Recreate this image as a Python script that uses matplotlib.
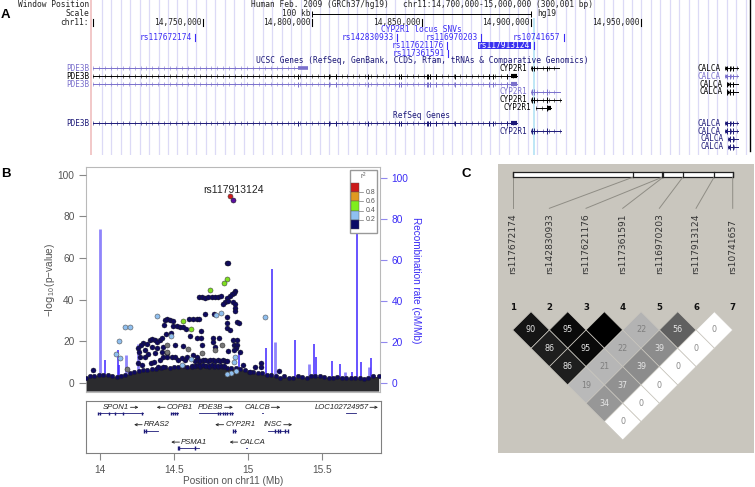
"""
Three panel locus figure: UCSC browser view (A), regional association plot (B)
and LD triangle (C). Everything is placed on pixel positions of a 755x487 page.
"""
import numpy as np
import matplotlib
matplotlib.use("Agg")
import matplotlib.pyplot as plt
from matplotlib.colors import LinearSegmentedColormap
from matplotlib.patches import Polygon, Rectangle

W, H = 755, 487
SANS = "Liberation Sans"
MONO = "DejaVu Sans Mono"
plt.rcParams["font.family"] = SANS
plt.rcParams["mathtext.default"] = "regular"

# ---- panel A: browser tracks (bp)
axis_ticks = [14750000, 14800000, 14850000, 14900000, 14950000]
scale_bar = [14800000, 14900000]
snv_names = ["rs117672174", "rs142830933", "rs117621176", "rs117361591",
             "rs116970203", "rs117913124", "rs10741657"]
snv_pos = [14746500, 14838900, 14861400, 14862150, 14877100, 14901100, 14914800]
snv_row = [37.7, 37.7, 45.7, 53.3, 37.7, 45.7, 37.7]
pde3b_exons = [14793400, 14807800, 14810900, 14825600, 14839600, 14840500, 14852300,
               14853000, 14853900, 14856500, 14865200, 14880700, 14882700, 14889100]
cyp_exons = [14900500, 14901400, 14907350]
calca_exons = [14989300, 14990800, 14992300]
# name, row, start, end, track colour key
gene_names = ["PDE3B", "PDE3B", "PDE3B", "PDE3B",
              "CYP2R1", "CYP2R1", "CYP2R1", "CYP2R1", "CYP2R1",
              "CALCA", "CALCA", "CALCA", "CALCA", "CALCA", "CALCA", "CALCA", "CALCA"]
gene_rows = [68.3, 76.3, 84.3, 123.3, 68.3, 92, 100, 107.7, 131,
             68.3, 76.3, 84.3, 92, 123.3, 131, 138.7, 146.7]
gene_start = [14700000, 14700000, 14700000, 14700000,
              14899800, 14899800, 14899800, 14902050, 14899800,
              14988500, 14988500, 14989300, 14989300, 14988500, 14988500, 14989750, 14989750]
gene_end = [14793400, 14893400, 14893400, 14893400,
            14912800, 14913000, 14913600, 14908900, 14913600,
            14994300, 14994300, 14994300, 14994300, 14994300, 14994300, 14994300, 14994300]
gene_kind = ["lav", "blk", "lav", "nav", "blk", "lav", "blk", "blk", "nav",
             "blk", "lav", "blk", "blk", "nav", "nav", "nav", "nav"]

# ---- panel B: association points (Mb, -log10 p)
top_x, top_y = [14.878], [89.7]
lead_x, lead_y = [14.900], [87.8]
green_x = [14.862, 14.839, 14.747, 14.563, 14.613]
green_y = [50.0, 47.8, 44.5, 29.6, 25.6]
blue_x = [14.387, 14.127, 14.170, 14.204, 14.104, 14.133, 14.785, 14.821, 14.477, 14.618,
          14.554, 14.912, 14.907, 14.921, 14.889, 14.862, 15.120]
blue_y = [32.2, 19.9, 26.6, 26.6, 13.6, 11.9, 32.4, 33.5, 22.4, 11.4,
          8.5, 12.2, 10.1, 5.6, 4.5, 4.2, 31.6]
grey_x = [14.455, 14.455, 14.595, 14.688, 14.828, 14.781, 14.183]
grey_y = [18.1, 14.6, 16.3, 14.1, 18.1, 15.7, 6.6]
navy_x = [14.857, 14.866,
          14.667, 14.688, 14.710, 14.733, 14.756, 14.778, 14.801, 14.817,
          14.916, 14.907, 14.891, 14.880, 14.857, 14.846, 14.835, 14.869, 14.903, 14.916, 14.914, 14.916,
          14.710, 14.774, 14.862, 14.857, 14.925, 14.939, 14.862, 14.880,
          14.439, 14.455, 14.473, 14.491, 14.434, 14.604, 14.631, 14.654, 14.670,
          14.495, 14.518, 14.541, 14.559, 14.579, 14.683, 14.446, 14.477, 14.611, 14.654, 14.681,
          14.762, 14.762, 14.803, 14.903, 14.930, 14.692, 14.509, 14.563, 14.781,
          14.907, 14.930, 14.921, 14.866, 14.948, 14.907,
          14.337, 14.348, 14.371, 14.387, 14.405, 14.419, 14.292, 14.314, 14.274, 14.258,
          14.265, 14.269, 14.258, 14.281, 14.303, 14.326, 14.342, 14.364, 14.405, 14.428,
          14.450, 14.416, 14.382, 14.348, 14.371, 14.394, 14.303, 14.428, 14.455, 14.484,
          14.507, 14.529, 14.552, 14.575, 14.590, 14.631, 14.654, 14.428,
          14.643, 14.660, 14.677, 14.694, 14.711, 14.728, 14.745, 14.762, 14.779, 14.796, 14.813, 14.830, 14.847, 14.857,
          14.620, 14.640, 14.660, 14.680, 14.700, 14.720, 14.740, 14.760, 14.780, 14.800, 14.820, 14.840,
          13.950, 15.091, 15.094, 15.215, 14.967, 15.050, 15.014]
navy_y = [57.7, 57.7,
          41.2, 41.2, 40.5, 41.2, 41.0, 41.2, 41.3, 41.7,
          44.0, 43.3, 42.5, 41.7, 40.5, 38.9, 37.8, 39.4, 38.9, 37.8, 35.7, 34.6,
          33.2, 32.9, 31.6, 28.5, 29.0, 28.7, 26.4, 25.3,
          30.1, 30.4, 30.1, 29.8, 27.6, 30.8, 30.8, 30.8, 30.5,
          27.4, 27.4, 26.9, 26.9, 25.8, 25.0, 23.4, 23.7, 22.4, 21.6, 21.3,
          21.3, 19.7, 21.3, 20.5, 20.5, 18.1, 18.0, 17.6, 17.3,
          18.1, 18.1, 16.5, 15.4, 14.9, 15.7,
          20.5, 20.8, 20.5, 19.7, 20.5, 21.3, 19.2, 18.6, 18.1, 16.5,
          14.9, 12.5, 9.3, 8.5, 12.5, 13.6, 9.3, 10.1, 10.9, 12.5,
          14.1, 14.9, 16.5, 17.0, 14.1, 7.7, 15.7, 17.3, 12.5, 12.5,
          12.5, 10.9, 11.7, 10.9, 12.5, 13.3, 12.5, 7.7,
          10.6, 10.8, 10.5, 10.7, 10.8, 10.6, 10.9, 10.7, 10.5, 10.8, 10.6, 10.7, 10.5, 10.2,
          8.2, 8.0, 8.4, 8.1, 8.3, 8.0, 8.2, 8.3, 8.0, 8.2, 8.1, 8.0,
          6.1, 9.6, 7.4, 5.6, 8.5, 7.7, 5.3]
# top edge of the overplotted band of weak points
floor_x = [13.905, 13.93, 13.96, 13.99, 14.02, 14.05, 14.08, 14.11, 14.14, 14.17, 14.20, 14.23,
           14.26, 14.29, 14.32, 14.35, 14.38, 14.41, 14.44, 14.47, 14.50, 14.53, 14.56, 14.59,
           14.62, 14.65, 14.68, 14.71, 14.74, 14.77, 14.80, 14.83, 14.86, 14.89, 14.92, 14.95,
           14.98, 15.01, 15.04, 15.07, 15.10, 15.13, 15.16, 15.19, 15.22, 15.25, 15.28, 15.31,
           15.34, 15.37, 15.40, 15.43, 15.46, 15.49, 15.52, 15.55, 15.58, 15.61, 15.64, 15.67,
           15.70, 15.73, 15.76, 15.79, 15.82, 15.85, 15.89]
floor_top = [2.5, 3.0, 3.2, 3.8, 3.6, 3.8, 3.0, 2.8, 3.0, 3.6, 4.5, 5.0,
             5.5, 6.0, 6.0, 6.5, 6.5, 7.0, 7.5, 7.0, 7.5, 7.5, 8.0, 7.5,
             7.5, 8.0, 7.5, 8.0, 7.5, 7.5, 7.5, 7.5, 7.0, 7.0, 7.0, 6.5,
             6.0, 5.0, 5.0, 4.5, 4.5, 3.5, 3.5, 3.0, 2.5, 3.0, 2.5, 2.5,
             3.0, 2.8, 2.5, 3.0, 3.0, 3.0, 2.8, 2.5, 2.5, 2.8, 2.5, 2.3,
             2.5, 2.3, 2.3, 2.0, 2.5, 3.0, 3.0]
rec_x = [13.998, 14.034, 14.122, 14.129, 14.174, 14.258, 14.939, 15.127, 15.168, 15.183, 15.321,
         15.416, 15.452, 15.466, 15.575, 15.627, 15.661, 15.711, 15.740, 15.767, 15.825, 15.839]
rec_rate = [75, 11, 16, 8.6, 13.5, 19, 15, 17, 55.4, 20, 20.6,
            9, 19, 12.4, 10.6, 9, 5, 5, 90, 10, 7.5, 12]
rec_faint = [1, 0, 0, 0, 1, 1, 0, 0, 0, 1, 0,
             1, 0, 0, 0, 0, 1, 0, 0, 0, 1, 0]
left_ticks = [0, 20, 40, 60, 80, 100]
x_ticks = [14, 14.5, 15, 15.5]
x_labels = ["14", "14.5", "15", "15.5"]
legend_labels = ["0.8", "0.6", "0.4", "0.2"]

# ---- panel B: gene strip (Mb)
strip_genes = ["SPON1", "COPB1", "PDE3B", "CALCB", "LOC102724957", "RRAS2", "CYP2R1", "INSC", "PSMA1", "CALCA"]
strip_start = [13.982, 14.477, 14.665, 15.097, 15.665, 14.299, 14.898, 15.134, 14.525, 14.989]
strip_end = [14.287, 14.523, 14.898, 15.101, 15.729, 14.389, 14.916, 15.274, 14.667, 14.993]
strip_row = [0, 0, 0, 0, 0, 1, 1, 1, 2, 2]
strip_label_x = [14.102, 14.540, 14.747, 15.063, 15.633, 14.382, 14.948, 15.167, 14.636, 15.032]
strip_arrow_from = [14.204, 14.439, 14.842, 15.158, 15.826, 14.283, 14.835, 15.242, 14.536, 14.930]
strip_arrow_to = [14.258, 14.382, 14.898, 15.219, 15.880, 14.229, 14.778, 15.299, 14.480, 14.876]
strip_exons = [13.982, 14.0, 14.06, 14.098, 14.155, 14.28, 14.477, 14.49, 14.505, 14.52, 14.795, 14.81,
               14.83, 14.845, 14.86, 14.875, 14.89, 15.18, 15.20, 15.22, 15.25, 15.27, 14.525, 14.535,
               14.298, 14.31, 14.90, 14.91, 14.64]
strip_exon_row = [0, 0, 0, 0, 0, 0, 0, 0, 0, 0, 0, 0,
                  0, 0, 0, 0, 0, 1, 1, 1, 1, 1, 2, 2,
                  1, 1, 1, 1, 2]

# ---- panel C: LD
ld_snps = ["rs117672174", "rs142830933", "rs117621176", "rs117361591",
           "rs116970203", "rs117913124", "rs10741657"]
bar_marks = [512.7, 632.7, 662.0, 663.0, 682.7, 714.0, 732.7]
ld_row1 = [90, 95, 100, 22, 56, 0]
ld_row2 = [86, 95, 22, 39, 0]
ld_row3 = [86, 21, 39, 0]
ld_row4 = [19, 37, 0]
ld_row5 = [34, 0]
ld_row6 = [0]
ld_rows = [ld_row1, ld_row2, ld_row3, ld_row4, ld_row5, ld_row6]

BLUE = "#3b2cf5"
GREY = "#555555"
LAV = "#7a70cc"
NAVY = "#1d1a78"
kind_col = {"lav": LAV, "blk": "black", "nav": NAVY}
BP_PER_PX = 50000 / 109.5


def px_axes(fig, l, t, r, b, **kw):
    return fig.add_axes([l / W, 1 - b / H, (r - l) / W, (b - t) / H], **kw)


def bp(px):
    return 14700000 + (px - 93.2) * BP_PER_PX


fig = plt.figure(figsize=(W / 100, H / 100), dpi=100)

# --- A
ax_a = px_axes(fig, 0, 0, W, 155, zorder=2)
ax_a.set_xlim(bp(0), bp(W)); ax_a.set_ylim(155, 0); ax_a.axis("off")
for x in np.arange(101.7, 750, 9.47):
    ax_a.axvline(bp(x), color="#dcdaf6", lw=0.9, zorder=0)
ax_a.axvline(bp(90.7), color="#f2c8c8", lw=1.4, zorder=1)
ax_a.axvspan(bp(532.5), bp(535.2), ymin=0, ymax=1 - 18 / 155, color="#bfe7f6", lw=0, zorder=1)
ax_a.plot([bp(750.3)] * 2, [0, 151], color="black", lw=1.0)
for name, y, x0, x1, kind in zip(gene_names, gene_rows, gene_start, gene_end, gene_kind):
    c = kind_col[kind]
    ax_a.plot([x0, x1], [y, y], color=c, lw=0.7, zorder=3)
    ax_a.plot(np.arange(x0, x1, 2700), [y] * len(np.arange(x0, x1, 2700)), ls="", marker="|",
              ms=2.2, mew=0.4, color=c, zorder=3)
    ax_a.text(x0 - 4 * BP_PER_PX, y, name, family=MONO, fontsize=5.5, color=c,
              ha="right", va="center")
    if name == "PDE3B":
        ex = pde3b_exons
    elif name == "CYP2R1":
        ex = [e for e in cyp_exons if x0 <= e <= x1]
    else:
        ex = [e for e in calca_exons if x0 <= e <= x1]
    if not (name == "PDE3B" and y == 68.3):
        ax_a.vlines(ex, y - 2.8, y + 2.8, color=c, lw=0.7, zorder=3)
    if name == "PDE3B" and y == 68.3:
        ax_a.plot([x1, x1 + 10 * BP_PER_PX], [y, y], color=c, lw=2.6, solid_capstyle="butt")
    elif name == "PDE3B":
        ax_a.plot([x1 - 6 * BP_PER_PX, x1], [y, y], color=c, lw=3, solid_capstyle="butt")
    elif y == 107.7:
        ax_a.plot([x1 - 3.5 * BP_PER_PX, x1], [y, y], color=c, lw=3, solid_capstyle="butt")
    elif name == "CALCA":
        ax_a.plot([x0, x0 + 2 * BP_PER_PX], [y, y], color=c, lw=2.4, solid_capstyle="butt")
for t in axis_ticks:
    ax_a.plot([t, t], [18.5, 26], color="black", lw=0.8)
    ax_a.text(t - 1.5 * BP_PER_PX, 22.3, f"{t:,}", family=MONO, fontsize=5.7, ha="right",
              va="center", color="#222222")
ax_a.plot([bp(93.2)] * 2, [18.5, 26], color="black", lw=0.8)
ax_a.plot(scale_bar, [13.7, 13.7], color="black", lw=0.7)
ax_a.vlines(scale_bar, 10.5, 17, color="black", lw=0.7)
for name, x, y in zip(snv_names, snv_pos, snv_row):
    ax_a.plot([x, x], [y - 3.3, y + 3.3], color=BLUE, lw=0.8)
    if name == "rs117913124":
        ax_a.add_patch(Rectangle((x - 55.5 * BP_PER_PX, y - 3.5), 52.7 * BP_PER_PX, 7,
                                 color="#3a32f0", lw=0, zorder=3))
        ax_a.text(x - 3.5 * BP_PER_PX, y, name, family=MONO, fontsize=5.7, color="white",
                  ha="right", va="center", zorder=4)
    else:
        ax_a.text(x - 3.2 * BP_PER_PX, y, name, family=MONO, fontsize=5.7, color=BLUE,
                  ha="right", va="center")

# --- B, recombination behind the points
ax_r = px_axes(fig, 86, 167, 380, 392, zorder=3)
ax_r.set_xlim(14 - 14.3 / 147.3, 14 + 279.7 / 147.3)
ax_r.set_ylim(-9.3 / 2.05, 215.7 / 2.05)
for x, r, f in zip(rec_x, rec_rate, rec_faint):
    ax_r.vlines(x, 0, r, color="#8f84fb" if f else "#3f25ff", lw=2.0 if f else 1.1)
ax_r.yaxis.tick_right()
ax_r.yaxis.set_label_position("right")
ax_r.set_yticks(left_ticks)
ax_r.tick_params(axis="y", colors="#9188ee", labelcolor=BLUE, length=4.8, width=0.8, labelsize=7.3, pad=3.5)
ax_r.set_xticks([])
for s in ax_r.spines.values():
    s.set_color("#b9b9b9")

ax_p = px_axes(fig, 86, 167, 380, 392, zorder=4)
ax_p.patch.set_alpha(0)
ax_p.set_xlim(ax_r.get_xlim())
ax_p.set_ylim(-9.3 / 2.08, 215.7 / 2.08)
ax_p.fill_between(floor_x, -4, floor_top, color="#2b2b2e", lw=0, zorder=2)
ax_p.scatter(floor_x, floor_top, s=11, color="#0f0a5e", edgecolor="#222222", lw=0.3, zorder=3)
ax_p.scatter(navy_x, navy_y, s=13, color="#0f0a5e", edgecolor="#1a1a1a", lw=0.3, zorder=3)
ax_p.scatter(grey_x, grey_y, s=13, color="#777777", edgecolor="#333333", lw=0.4, zorder=4)
ax_p.scatter(blue_x, blue_y, s=13, color="#8fbfef", edgecolor="#555555", lw=0.4, zorder=4)
ax_p.scatter(green_x, green_y, s=13, color="#7fe01f", edgecolor="#444444", lw=0.4, zorder=4)
ax_p.scatter(top_x, top_y, s=13, color="#d01c1c", edgecolor="#444444", lw=0.4, zorder=4)
ax_p.scatter(lead_x, lead_y, s=13, color="#5a0fa0", edgecolor="#222222", lw=0.4, zorder=4)
ax_p.set_yticks(left_ticks)
ax_p.set_xticks([])
ax_p.tick_params(axis="y", colors="#888888", labelcolor=GREY, length=4.8, width=0.8, labelsize=7.3, pad=3.5)
for s in ax_p.spines.values():
    s.set_visible(False)

ax_g = px_axes(fig, 86, 401, 380.7, 452.7, zorder=3)
ax_g.set_xlim(ax_r.get_xlim()); ax_g.set_ylim(452.7, 401)
for s in ax_g.spines.values():
    s.set_color("#808080")
ax_g.set_yticks([])
ax_g.set_xticks(x_ticks); ax_g.set_xticklabels(x_labels)
ax_g.tick_params(axis="x", colors="#888888", labelcolor=GREY, length=4.8, width=0.8, labelsize=7.3, pad=4)
ax_g.set_xlabel("Position on chr11 (Mb)", fontsize=7.2, color=GREY, labelpad=0.5)
for name, x0, x1, row, lx, a0, a1 in zip(strip_genes, strip_start, strip_end, strip_row, strip_label_x,
                                         strip_arrow_from, strip_arrow_to):
    y_txt, y_gene = 407.3 + 17.4 * row, 413.3 + 17.4 * row
    ax_g.plot([x0, x1], [y_gene, y_gene], color=NAVY, lw=0.6)
    ax_g.text(lx, y_txt, name, style="italic", fontsize=5.6, color="#222222", ha="center", va="center")
    ax_g.annotate("", xy=(a1, y_txt), xytext=(a0, y_txt),
                  arrowprops=dict(arrowstyle="->", color="#222222", lw=0.6, mutation_scale=4, shrinkA=0, shrinkB=0))
ax_g.vlines(strip_exons, [411.5 + 17.4 * r for r in strip_exon_row], [415.1 + 17.4 * r for r in strip_exon_row],
            color=NAVY, lw=1.0)

# --- page layer in pixels: letters, header text, legend, panel C
page = px_axes(fig, 0, 0, W, H, zorder=6)
page.set_xlim(0, W); page.set_ylim(H, 0); page.axis("off")
page.patch.set_alpha(0)
for s, x, y in [("A", 1, 15.5), ("B", 1, 174), ("C", 462, 174)]:
    page.text(x, y, s, fontsize=9.5, fontweight="bold", va="center", color="black")
for s, y in [("Window Position", 4.5), ("Scale", 13.7), ("chr11:", 22.3)]:
    page.text(89, y, s, family=MONO, fontsize=5.7, ha="right", va="center", color="#222222")
page.text(250.7, 4.5, "Human Feb. 2009 (GRCh37/hg19)", family=MONO, fontsize=5.7, va="center", color="#222222")
page.text(403.3, 4.5, "chr11:14,700,000-15,000,000 (300,001 bp)", family=MONO, fontsize=5.7, va="center", color="#222222")
page.text(310, 13.7, "100 kb", family=MONO, fontsize=5.7, ha="right", va="center", color="#222222")
page.text(537.7, 13.7, "hg19", family=MONO, fontsize=5.7, va="center", color="#222222")
page.text(381, 30, "CYP2R1 locus SNVs", family=MONO, fontsize=5.7, va="center", color=BLUE)
page.text(255.7, 60.8, "UCSC Genes (RefSeq, GenBank, CCDS, Rfam, tRNAs & Comparative Genomics)",
          family=MONO, fontsize=5.7, va="center", color=NAVY)
page.text(392.7, 115.7, "RefSeq Genes", family=MONO, fontsize=5.7, va="center", color=NAVY)

page.text(233, 190, "rs117913124", fontsize=7.5, ha="center", va="center", color="#222222")
page.text(50, 280, r"$-\log_{10}$(p$-$value)", fontsize=7.2, rotation=90, ha="center", va="center", color=GREY)
page.text(415.7, 280, "Recombination rate (cM/Mb)", fontsize=7.2, rotation=270, ha="center", va="center", color=BLUE)

page.add_patch(Rectangle((349.7, 170.3), 27.6, 63, fc="white", ec="#999999", lw=1.0))
page.text(363.5, 176.5, r"$r^2$", fontsize=4.8, ha="center", va="center", color=GREY)
for i, c in enumerate(["#cc1a1a", "#e09a20", "#7fee1c", "#8fc0f0", "#0a0a66"]):
    page.add_patch(Rectangle((351.3, 182.7 + 9.33 * i), 7.7, 9.33, fc=c, ec="#555555", lw=0.3))
for i, s in enumerate(legend_labels):
    y = 192 + 9.33 * i
    page.plot([359, 363], [y, y], color="#777777", lw=0.5)
    page.text(365.5, y, s, fontsize=5, va="center", color=GREY)

# panel C, SNP index i sits at pixel 512.7 + 36.67 * i
step = 36.67
page.add_patch(Rectangle((498, 164), 256, 289, fc="#c9c6be", ec="none", zorder=0))
page.add_patch(Rectangle((512.7, 171.7), 220, 5.6, fc="white", ec="#222222", lw=0.9, zorder=1))
for i, (m, name) in enumerate(zip(bar_marks, ld_snps)):
    x = 512.7 + step * i
    page.plot([m, m], [171.7, 177.3], color="#222222", lw=0.9, zorder=2)
    page.plot([m, x], [177.3, 208.3], color="#8f8d85", lw=0.7, zorder=1)
    page.text(x, 274, name, family="DejaVu Sans", fontsize=6.6, rotation=90, ha="center", va="bottom",
              color="#333333")
    page.text(x, 307.3, str(i + 1), family="DejaVu Sans", fontsize=6.2, fontweight="bold", ha="center",
              va="center", color="#111111")

ld_cmap = LinearSegmentedColormap.from_list(
    "ld", [(0, "white"), (0.01, "#cfcfcf"), (0.2, "#b8b8b8"), (0.39, "#8c8c8c"), (0.56, "#606060"), (1, "black")])
half = step / 2
for r, vals in enumerate(ld_rows):
    for k, v in enumerate(vals):
        cx = 512.7 + step * (k + 0.5 + r / 2)
        cy = 330 + half * r
        page.add_patch(Polygon([(cx - half, cy), (cx, cy - half), (cx + half, cy), (cx, cy + half)],
                               fc=ld_cmap(v / 100), ec="#c9c6be", lw=0.5, zorder=1))
        if v == 100:
            continue
        tc = "#e6e6e6" if v >= 30 else ("#7f7f7f" if v > 0 else "#8a8a8a")
        page.text(cx, cy, str(v), family="DejaVu Sans", fontsize=5.8, color=tc, ha="center", va="center", zorder=2)

fig.savefig("out.png", dpi=100)
